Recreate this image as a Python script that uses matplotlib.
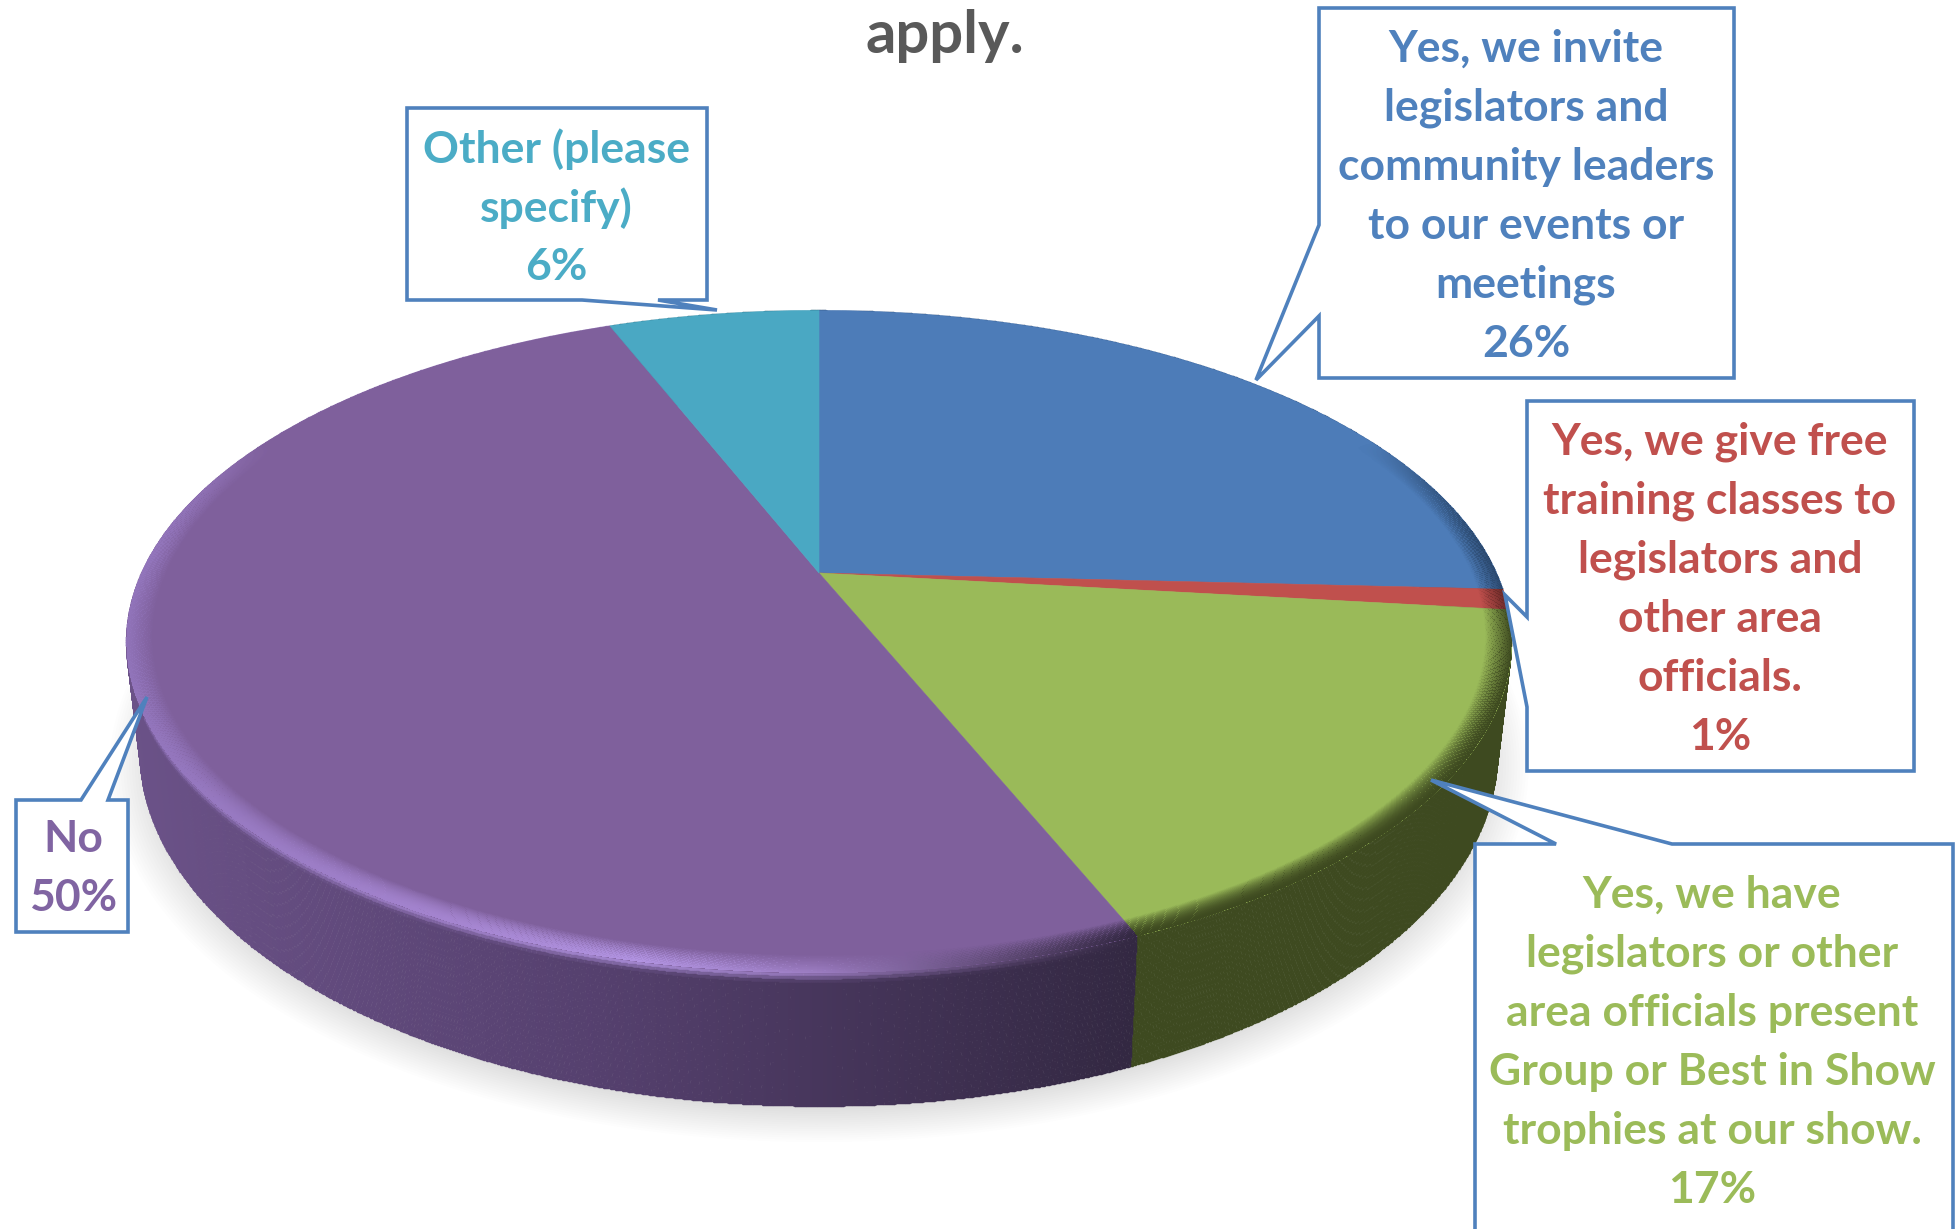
import numpy as np
import matplotlib
matplotlib.use("Agg")
import matplotlib.pyplot as plt
from matplotlib.colors import to_rgb
from matplotlib.path import Path
from matplotlib.patches import PathPatch
from matplotlib.transforms import Transform, Affine2D

plt.rcParams['font.family'] = ['Lato', 'DejaVu Sans']

# data
values = [25.8, 1.0, 17.0, 50.2, 6.0]
percents = ["26%", "1%", "17%", "50%", "6%"]
labels = [
    "Yes, we invite\nlegislators and\ncommunity leaders\nto our events or\nmeetings",
    "Yes, we give free\ntraining classes to\nlegislators and\nother area\nofficials.",
    "Yes, we have\nlegislators or other\narea officials present\nGroup or Best in Show\ntrophies at our show.",
    "No",
    "Other (please\nspecify)",
]
title_text = "apply."

top_colors = ['#4d7cb8', '#c0504d', '#9aba59', '#7f609c', '#4aa8c3']
text_colors = ['#4f81bd', '#c0504d', '#9bbb59', '#8064a2', '#4bacc6']
wall_colors = ['#2c4a70', '#6b2a28', '#3e4a20', '#5a4474', '#2a6478']
box_color = '#4f81bd'

# callout outlines, pixel positions on the canvas
text_x = [1526, 1720, 1712, 73, 556]
text_y = [49, 442, 895, 839, 149]
outlines = [
    [(1319, 8), (1734, 8), (1734, 378), (1319, 378), (1319, 316), (1256, 380), (1319, 225)],
    [(1527, 401), (1914, 401), (1914, 771), (1527, 771), (1527, 707), (1505, 595), (1527, 617)],
    [(1475, 844), (1556, 844), (1431, 780), (1672, 844), (1953, 844), (1953, 1260), (1475, 1260)],
    [(16, 800), (81, 800), (147, 697), (108, 800), (128, 800), (128, 932), (16, 932)],
    [(407, 108), (707, 108), (707, 300), (658, 300), (717, 310), (582, 300), (407, 300)],
]

# projection of the tilted disc
cx, cy = 819, 573
A, B, k = 317, 677.5, 0.2075
D = 106


def project(u, v, s=0.0):
    w = 1 + k * v
    return cx + B * u / w * (1 - 0.02 * s), cy - A * v / w + D * s / w


class Tilt(Transform):
    input_dims = output_dims = 2
    is_separable = False
    has_inverse = False

    def transform_non_affine(self, xy):
        xy = np.asarray(xy)
        px, py = project(xy[:, 0], xy[:, 1])
        return np.column_stack([px, py])

    def transform_path_non_affine(self, path):
        poly = path.to_polygons(Affine2D().scale(4000))[0] / 4000
        return Path(self.transform_non_affine(poly), closed=True)


def purple_wall(px):
    stops = np.array([to_rgb(c) for c in ['#6b5288', '#55406e', '#332842']])
    return np.column_stack([np.interp(px, [125, 600, 1134], stops[:, i]) for i in range(3)])


def purple_rim(px):
    stops = np.array([to_rgb(c) for c in ['#9275bb', '#a585d0', '#b294e2', '#9c7dc2', '#5f4a75', '#332842']])
    return np.column_stack([np.interp(px, [125, 450, 640, 820, 1000, 1134], stops[:, i]) for i in range(3)])


fig = plt.figure(figsize=(19.6, 12.29), dpi=100)
ax = fig.add_axes([0, 0, 1, 1])

wedges, _ = ax.pie(values, colors=top_colors, startangle=90, counterclock=False,
                   wedgeprops={'linewidth': 0.4, 'zorder': 3})
for w, c in zip(wedges, top_colors):
    w.set_edgecolor(c)
ax.set_aspect('auto')
ax.set_xlim(0, 1960)
ax.set_ylim(1229, 0)
ax.axis('off')

tilt = Tilt() + ax.transData
for w in wedges:
    w.set_transform(tilt)

# soft shadow below the disc
ang = np.linspace(0, 2 * np.pi, 400)
for scale in np.linspace(1.045, 0.97, 20):
    sx, sy = project(scale * np.cos(ang), scale * np.sin(ang), 1.08)
    ax.fill(sx, sy, color='black', alpha=0.0075, lw=0, zorder=1)

# side wall and rim of every slice
depth = np.linspace(0, 1, 41)
ramp = np.linspace(0.963, 1.0, 31)
for i, w in enumerate(wedges):
    t = np.deg2rad(np.linspace(w.theta1, w.theta2, max(int(w.theta2 - w.theta1) * 8, 8)))
    tm = (t[:-1] + t[1:]) / 2
    mx, _ = project(np.cos(tm), np.sin(tm), 0.1)
    if i == 3:
        wall = purple_wall(mx)
        rim = purple_rim(mx)
    else:
        wall = np.tile(to_rgb(wall_colors[i]), (len(tm), 1))
        rim = wall

    T, S = np.meshgrid(t, depth)
    X, Y = project(np.cos(T), np.sin(T), S)
    sm = (depth[:-1] + depth[1:]) / 2
    mix = np.clip(sm / 0.07, 0, 1)[:, None, None]
    C = rim[None, :, :] * (1 - mix) + wall[None, :, :] * mix
    ax.pcolormesh(X, Y, C, zorder=2, edgecolors='face', linewidth=0.3, antialiased=True)

    T, R = np.meshgrid(t, ramp)
    X, Y = project(R * np.cos(T), R * np.sin(T))
    rm = (ramp[:-1] + ramp[1:]) / 2
    fade = np.clip((0.45 - np.sin(tm)) / 0.4, 0, 1)
    alpha = ((rm - ramp[0]) / (ramp[-1] - ramp[0]))[:, None] * fade[None, :]
    C = np.dstack([np.repeat(rim[None, :, :], len(rm), axis=0), alpha])
    ax.pcolormesh(X, Y, C, zorder=4)

# callouts
for pts in outlines:
    ax.add_patch(PathPatch(Path(pts + [pts[0]], closed=True), facecolor='white',
                           edgecolor=box_color, lw=2.6, joinstyle='miter', zorder=5))

for i, lab in enumerate(labels):
    for j, line in enumerate((lab + "\n" + percents[i]).split("\n")):
        ax.text(text_x[i], text_y[i] + j * 59, line, color=text_colors[i], fontsize=32,
                fontweight='bold', ha='center', va='center', zorder=6)

ax.text(945, 36, title_text, color='#595959', fontsize=43, fontweight='bold',
        ha='center', va='center', zorder=6)

fig.savefig("out.png", dpi=100)
